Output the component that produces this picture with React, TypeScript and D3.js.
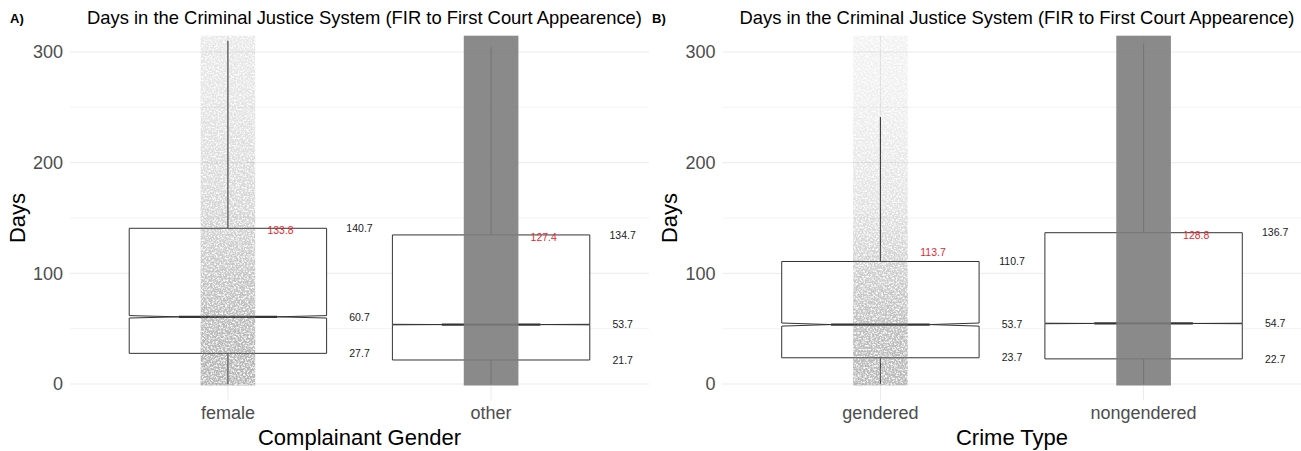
import React from "react";
import * as d3 from "d3";

// ---- Panel A: complainant gender ----
const genderCategories = ["female", "other"];
const genderQ1 = [27.7, 21.7];
const genderMedian = [60.7, 53.7];
const genderQ3 = [140.7, 134.7];
const genderMean = [133.8, 127.4];
const genderUpperWhisker = [310.2, 304.2];
const genderLowerWhisker = [0, 0];
const genderNotch = [1.1, 0.25];

// ---- Panel B: crime type ----
const crimeCategories = ["gendered", "nongendered"];
const crimeQ1 = [23.7, 22.7];
const crimeMedian = [53.7, 54.7];
const crimeQ3 = [110.7, 136.7];
const crimeMean = [113.7, 128.8];
const crimeUpperWhisker = [241.2, 307.7];
const crimeLowerWhisker = [0, 0];
const crimeNotch = [1.4, 0.25];

// Share of the jitter strip covered by case points, by day level
const densityLevels = [0, 30, 60, 90, 120, 150, 200, 250, 315];
const femaleDensity = [0.58, 0.56, 0.52, 0.46, 0.4, 0.34, 0.27, 0.22, 0.18];
const otherDensity = [1, 1, 1, 1, 1, 1, 1, 1, 0.96];
const genderedDensity = [0.55, 0.53, 0.48, 0.41, 0.34, 0.25, 0.18, 0.13, 0.1];
const nongenderedDensity = [1, 1, 1, 1, 1, 1, 1, 1, 0.97];

const yTicksMajor = [0, 100, 200, 300];
const yTicksMinor = [50, 150, 250];

const W = 1301;
const H = 451;
const PANEL_TOP = 35.4;
const PANEL_BOTTOM = 400.6;
const FONT = "'Liberation Sans', Arial, Helvetica, sans-serif";

const y = d3.scaleLinear().domain([-15, 315]).range([PANEL_BOTTOM, PANEL_TOP]);

type PanelProps = {
  id: string;
  tag: string;
  tagX: number;
  left: number;
  right: number;
  xTitle: string;
  categories: string[];
  q1: number[];
  median: number[];
  q3: number[];
  mean: number[];
  upper: number[];
  lower: number[];
  notch: number[];
  densities: number[][];
};

function Panel(p: PanelProps) {
  const x = d3.scalePoint<string>().domain(p.categories).range([p.left, p.right]).padding(0.6);
  const step = x.step();
  const boxHalf = (step * 0.75) / 2;
  const jitterHalf = step * 0.1 + 1;
  const center = (p.left + p.right) / 2;
  const clipId = `clip-${p.id}`;

  return (
    <g>
      <defs>
        <clipPath id={clipId}>
          <rect x={p.left} y={PANEL_TOP} width={p.right - p.left} height={PANEL_BOTTOM - PANEL_TOP} />
        </clipPath>
        {p.categories.map((c, i) => (
          <linearGradient
            key={c}
            id={`grad-${p.id}-${i}`}
            gradientUnits="userSpaceOnUse"
            x1={0}
            x2={0}
            y1={y(315)}
            y2={y(0)}
          >
            {densityLevels
              .map((lv, k) => ({ lv, d: p.densities[i][k] }))
              .sort((a, b) => b.lv - a.lv)
              .map(({ lv, d }) => (
                <stop
                  key={lv}
                  offset={(y(lv) - y(315)) / (y(0) - y(315))}
                  stopColor="#7f7f7f"
                  stopOpacity={d}
                />
              ))}
          </linearGradient>
        ))}
      </defs>

      {/* grid */}
      {yTicksMinor.map((t) => (
        <line key={`mn${t}`} x1={p.left} x2={p.right} y1={y(t)} y2={y(t)} stroke="#f0f0f0" strokeWidth={0.8} />
      ))}
      {yTicksMajor.map((t) => (
        <line key={`mj${t}`} x1={p.left} x2={p.right} y1={y(t)} y2={y(t)} stroke="#ebebeb" strokeWidth={1} />
      ))}
      {p.categories.map((c) => (
        <line key={`vx${c}`} x1={x(c)} x2={x(c)} y1={PANEL_TOP} y2={PANEL_BOTTOM} stroke="#ebebeb" strokeWidth={1} />
      ))}

      {/* notched boxplots */}
      <g clipPath={`url(#${clipId})`}>
        {p.categories.map((c, i) => {
          const xc = x(c) as number;
          const xl = xc - boxHalf;
          const xr = xc + boxHalf;
          const nh = boxHalf / 2;
          const ym = y(p.median[i]);
          const yUp = y(p.median[i] + p.notch[i]);
          const yLo = y(p.median[i] - p.notch[i]);
          const pts: [number, number][] = [
            [xl, y(p.q1[i])],
            [xl, yLo],
            [xc - nh, ym],
            [xl, yUp],
            [xl, y(p.q3[i])],
            [xr, y(p.q3[i])],
            [xr, yUp],
            [xc + nh, ym],
            [xr, yLo],
            [xr, y(p.q1[i])],
          ];
          return (
            <g key={`box${c}`}>
              <line x1={xc} x2={xc} y1={y(p.q3[i])} y2={y(p.upper[i])} stroke="#333333" strokeWidth={1.1} />
              <line x1={xc} x2={xc} y1={y(p.q1[i])} y2={y(p.lower[i])} stroke="#333333" strokeWidth={1.1} />
              <polygon points={pts.map((d) => d.join(",")).join(" ")} fill="#ffffff" stroke="#333333" strokeWidth={1} />
              <line x1={xc - nh} x2={xc + nh} y1={ym} y2={ym} stroke="#333333" strokeWidth={2.2} />
            </g>
          );
        })}

        {/* jittered case points, shown as a grained strip */}
        {p.categories.map((c, i) => {
          const xc = x(c) as number;
          const saturated = Math.min(...p.densities[i]) > 0.9;
          return (
            <rect
              key={`pts${c}`}
              x={xc - jitterHalf}
              y={y(315)}
              width={jitterHalf * 2}
              height={y(0) - y(315) + 1.5}
              fill={saturated ? "#7d7d7d" : `url(#grad-${p.id}-${i})`}
              fillOpacity={saturated ? 0.9 : 1}
              filter={saturated ? undefined : "url(#grain)"}
            />
          );
        })}
      </g>

      {/* value labels */}
      {p.categories.map((c, i) => {
        const xc = x(c) as number;
        const lx = xc + step * 0.5;
        return (
          <g key={`lab${c}`} fontFamily={FONT} fontSize={10.5}>
            {[p.q3[i], p.median[i], p.q1[i]].map((v, k) => (
              <text key={k} x={lx} y={y(v)} dy="0.35em" textAnchor="middle" fill="#1a1a1a">
                {v.toFixed(1)}
              </text>
            ))}
            <text x={xc + step * 0.2} y={y(p.mean[i]) - 2} textAnchor="middle" fill="#e8282d">
              {p.mean[i].toFixed(1)}
            </text>
          </g>
        );
      })}

      {/* axes */}
      {yTicksMajor.map((t) => (
        <text
          key={`yt${t}`}
          x={p.left - 7}
          y={y(t)}
          dy="0.35em"
          textAnchor="end"
          fontFamily={FONT}
          fontSize={18}
          fill="#4d4d4d"
        >
          {t}
        </text>
      ))}
      {p.categories.map((c) => (
        <text key={`xt${c}`} x={x(c)} y={419} textAnchor="middle" fontFamily={FONT} fontSize={18} fill="#4d4d4d">
          {c}
        </text>
      ))}
      <text x={center} y={445} textAnchor="middle" fontFamily={FONT} fontSize={22} fill="#000">
        {p.xTitle}
      </text>
      <text
        transform={`translate(${p.left - 53},${(PANEL_TOP + PANEL_BOTTOM) / 2}) rotate(-90)`}
        dy="0.35em"
        textAnchor="middle"
        fontFamily={FONT}
        fontSize={22}
        fill="#000"
      >
        Days
      </text>
      <text x={center + 5} y={24} textAnchor="middle" fontFamily={FONT} fontSize={18.4} fill="#000">
        Days in the Criminal Justice System (FIR to First Court Appearence)
      </text>
      <text x={p.tagX} y={23} fontFamily={FONT} fontSize={13} fontWeight="bold" fill="#000">
        {p.tag}
      </text>
    </g>
  );
}

export default function App() {
  return (
    <svg
      width={W}
      height={H}
      viewBox={`0 0 ${W} ${H}`}
      style={{ position: "absolute", left: 0, top: 0, background: "#fff" }}
    >
      <defs>
        <filter id="grain" x="0" y="0" width="1" height="1" colorInterpolationFilters="sRGB">
          <feTurbulence type="fractalNoise" baseFrequency="0.55" numOctaves={2} seed={7} result="noise" />
          <feColorMatrix
            in="noise"
            type="matrix"
            values="0 0 0 0 0  0 0 0 0 0  0 0 0 0 0  3.0 0 0 0 -0.75"
            result="mask"
          />
          <feComposite in="SourceGraphic" in2="mask" operator="in" />
        </filter>
      </defs>
      <rect width={W} height={H} fill="#fff" />
      <Panel
        id="a"
        tag="A)"
        tagX={10}
        left={70}
        right={649}
        xTitle="Complainant Gender"
        categories={genderCategories}
        q1={genderQ1}
        median={genderMedian}
        q3={genderQ3}
        mean={genderMean}
        upper={genderUpperWhisker}
        lower={genderLowerWhisker}
        notch={genderNotch}
        densities={[femaleDensity, otherDensity]}
      />
      <Panel
        id="b"
        tag="B)"
        tagX={652}
        left={722.5}
        right={1301.5}
        xTitle="Crime Type"
        categories={crimeCategories}
        q1={crimeQ1}
        median={crimeMedian}
        q3={crimeQ3}
        mean={crimeMean}
        upper={crimeUpperWhisker}
        lower={crimeLowerWhisker}
        notch={crimeNotch}
        densities={[genderedDensity, nongenderedDensity]}
      />
    </svg>
  );
}
